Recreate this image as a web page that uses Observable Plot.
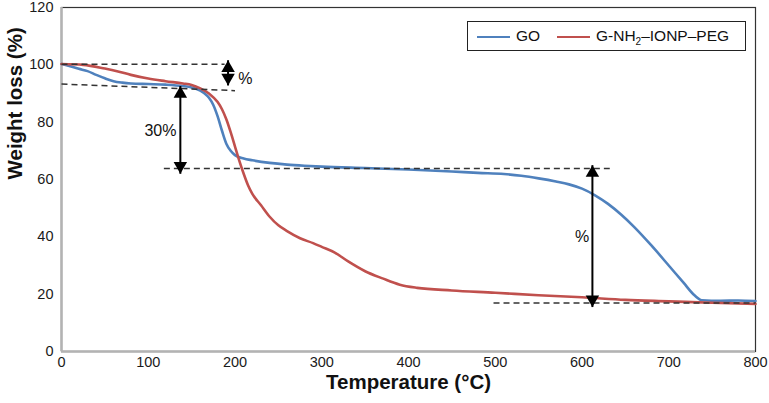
<!DOCTYPE html>
<html>
<head>
<meta charset="utf-8">
<script src="https://cdn.jsdelivr.net/npm/d3@7"></script>
<script src="https://cdn.jsdelivr.net/npm/@observablehq/plot@0.6"></script>
<style>
  body { margin: 0; background: #fff; }
  #wrap { position: relative; width: 769px; height: 403px; font-family: "Liberation Sans", Arial, sans-serif; }
  #legend { position: absolute; left: 467px; top: 21px; width: 279px; height: 30px; border: 1px solid #222; background: #fff; box-sizing: border-box; font-size: 15.5px; color: #111; }
  .item { position: absolute; top: 5px; line-height: 18px; }
  .sw { position: absolute; top: 14px; width: 33px; height: 0; border-top: 2.5px solid; }
  sub { font-size: 10px; vertical-align: -4px; line-height: 0; }
</style>
</head>
<body>
<div id="wrap"></div>
<script>
// Series: GO
const goTemp = [0,10,20,30,40,50,60,70,80,100,120,140,150,160,165,170,175,180,185,190,195,200,210,220,240,260,280,300,350,400,450,480,510,530,550,570,585,600,615,630,645,660,680,700,717,730,738,760,780,800];
const goWeight = [100.3,99.5,98.6,97.8,96.5,95.3,94.3,93.8,93.5,93.3,93.1,92.6,92.1,91,90,88.5,86,82,77,72.5,70,68.5,67.3,66.7,65.8,65.2,64.8,64.5,64,63.5,62.8,62.3,61.9,61.3,60.4,59.3,58.3,56.8,54.5,51.5,47.8,43.5,37,30,24,19.5,17.9,17.7,17.8,17.6];
// Series: G-NH2–IONP–PEG
const pegTemp = [0,25,50,64,80,100,120,140,150,160,170,180,185,190,195,200,205,210,215,220,230,240,250,260,275,290,300,315,330,350,370,390,410,450,500,550,600,650,700,750,800];
const pegWeight = [100.3,100,98.7,97.8,96.5,95.2,94.3,93.5,93,91.8,90,87,84.5,81,76.5,71.5,66.5,62,58,55,51,47,44,42,39.5,37.8,36.5,34.5,31.5,28,25.5,23.3,22.2,21.3,20.5,19.6,18.9,18,17.5,17,16.6];
// Tick values
const xTicks = [0,100,200,300,400,500,600,700,800];
const yTicks = [0,20,40,60,80,100,120];
// Dashed reference lines (temperature / weight)
const dashX1 = [0, 0, 118, 498];
const dashY1 = [100.2, 93.3, 63.8, 16.9];
const dashX2 = [188, 200, 632, 800];
const dashY2 = [100.2, 91, 63.8, 16.9];
// Double arrows
const arrowT = [192, 137, 612];
const arrowTop = [101.6, 92.6, 65];
const arrowBottom = [92.8, 62, 15.5];
// Arrow labels
const labelT = [212, 114, 600];
const labelW = [95.2, 77, 40];
const labelText = ["%", "30%", "%"];

const go = goTemp.map((t, i) => ({t, w: goWeight[i]}));
const peg = pegTemp.map((t, i) => ({t, w: pegWeight[i]}));
const dashes = dashX1.map((x1, i) => ({x1, y1: dashY1[i], x2: dashX2[i], y2: dashY2[i]}));
const arrows = arrowT.map((t, i) => ({t, top: arrowTop[i], bottom: arrowBottom[i]}));
const labels = labelT.map((t, i) => ({t, w: labelW[i], text: labelText[i]}));

const blue = "#4F81BD", red = "#C0504D";

const chart = Plot.plot({
  width: 769, height: 403,
  marginLeft: 61, marginRight: 14, marginTop: 7, marginBottom: 52,
  style: {fontFamily: "'Liberation Sans', Arial, sans-serif", fontSize: "14px", color: "#1a1a1a", background: "#fff", overflow: "visible"},
  x: {domain: [0, 800]},
  y: {domain: [0, 120]},
  marks: [
    Plot.frame({stroke: "#333", strokeWidth: 1.2}),
    Plot.ruleY([0], {stroke: "#b3b3b3", strokeWidth: 2.5}),
    Plot.ruleX([0], {stroke: "#b3b3b3", strokeWidth: 2.5}),
    Plot.axisX({ticks: xTicks, tickSize: 0, tickPadding: 5, label: null, fontSize: 14.5}),
    Plot.axisY({ticks: yTicks, tickSize: 0, tickPadding: 8, label: null, fontSize: 14.5}),
    Plot.line(go, {x: "t", y: "w", stroke: blue, strokeWidth: 2.6, curve: "monotone-x"}),
    Plot.line(peg, {x: "t", y: "w", stroke: red, strokeWidth: 2.6, curve: "monotone-x"}),
    Plot.link(dashes, {x1: "x1", y1: "y1", x2: "x2", y2: "y2", stroke: "#333", strokeWidth: 1.5, strokeDasharray: "6,4"}),
    Plot.link(arrows, {x1: "t", x2: "t", y1: "top", y2: "bottom", stroke: "#000", strokeWidth: 2}),
    Plot.dot(arrows, {x: "t", y: "top", symbol: "triangle", r: 5, fill: "#000", stroke: "none", dy: 7.8}),
    Plot.dot(arrows, {x: "t", y: "bottom", symbol: "triangle", r: 5, fill: "#000", stroke: "none", rotate: 180, dy: -7.8}),
    Plot.text(labels, {x: "t", y: "w", text: "text", fontSize: 16, fill: "#111"}),
    Plot.text(["Temperature (°C)"], {frameAnchor: "bottom", dy: 37, fontSize: 20.5, fontWeight: "bold", fill: "#111"}),
    Plot.text(["Weight loss (%)"], {frameAnchor: "left", dx: -46, rotate: -90, fontSize: 20.5, fontWeight: "bold", fill: "#111"})
  ]
});

const wrap = document.getElementById("wrap");
wrap.appendChild(chart);
const legend = document.createElement("div");
legend.id = "legend";
legend.innerHTML =
  '<span class="sw" style="left:9px;border-color:' + blue + '"></span>' +
  '<span class="item" style="left:48px">GO</span>' +
  '<span class="sw" style="left:89px;border-color:' + red + '"></span>' +
  '<span class="item" style="left:128px">G-NH<sub>2</sub>–IONP–PEG</span>';
wrap.appendChild(legend);
</script>
</body>
</html>
